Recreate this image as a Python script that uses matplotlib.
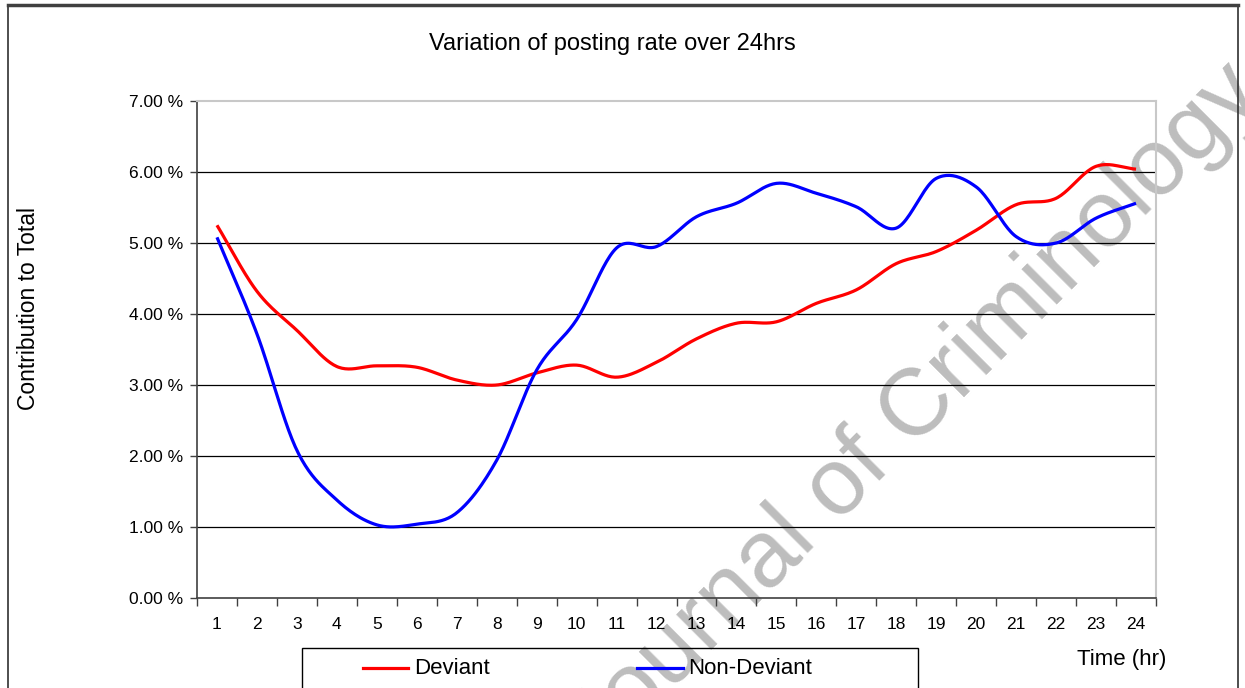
import numpy as np
import matplotlib
matplotlib.use('Agg')
import matplotlib.pyplot as plt
from matplotlib.patches import Rectangle
from matplotlib.lines import Line2D

hours = list(range(1, 25))
deviant = [5.25, 4.32, 3.77, 3.26, 3.27, 3.25, 3.07, 3.00, 3.17, 3.28, 3.11, 3.32,
           3.65, 3.87, 3.89, 4.15, 4.34, 4.71, 4.88, 5.18, 5.54, 5.63, 6.08, 6.04]
non_deviant = [5.08, 3.72, 2.08, 1.38, 1.03, 1.04, 1.20, 1.94, 3.21, 3.92, 4.93, 4.95,
               5.37, 5.56, 5.84, 5.70, 5.51, 5.21, 5.91, 5.79, 5.09, 5.00, 5.35, 5.56]
y_ticks = [0, 1, 2, 3, 4, 5, 6, 7]
y_labels = ["%.2f %%" % v for v in y_ticks]
title = "Variation of posting rate over 24hrs"
series_names = ["Deviant", "Non-Deviant"]
colors = ["#ff0000", "#0000ff"]

FONT = ['Liberation Sans', 'DejaVu Sans']
plt.rcParams['font.family'] = FONT


def smooth(x, y, n=24):
    x = np.asarray(x, float)
    y = np.asarray(y, float)
    P = np.column_stack([x, y])
    Pext = np.vstack([P[0] - (P[1] - P[0]), P, P[-1] + (P[-1] - P[-2])])
    out = []
    t = np.linspace(0, 1, n, endpoint=False)
    for i in range(1, len(Pext) - 2):
        p0, p1, p2, p3 = Pext[i - 1], Pext[i], Pext[i + 1], Pext[i + 2]
        c1 = p1 + (p2 - p0) / 6.0
        c2 = p2 - (p3 - p1) / 6.0
        tt = t[:, None]
        seg = ((1 - tt) ** 3) * p1 + 3 * ((1 - tt) ** 2) * tt * c1 + 3 * (1 - tt) * tt ** 2 * c2 + tt ** 3 * p2
        out.append(seg)
    out.append(P[-1][None, :])
    out = np.vstack(out)
    return out[:, 0], out[:, 1]


W, H = 1245, 688
fig = plt.figure(figsize=(W / 100, H / 100), dpi=100)
fig.patch.set_facecolor('white')

# outer frame
fig.patches.append(Rectangle((8 / W, -0.05), (1238 - 8) / W, 1.05 - 5 / H,
                             transform=fig.transFigure, fill=False,
                             edgecolor='#303030', linewidth=1.2))
fig.add_artist(Line2D([8 / W, 1238 / W], [1 - 5 / H, 1 - 5 / H], transform=fig.transFigure,
                      color='#404040', linewidth=2.5))

ax = fig.add_axes([197 / W, 90 / H, 959 / W, 497 / H])
ax.patch.set_visible(False)
ax.set_xlim(0.5, 24.5)
ax.set_ylim(0, 7)

for yv in y_ticks[1:-1]:
    ax.axhline(yv, color='#000000', linewidth=0.9, zorder=1)

for vals, col, name in zip([deviant, non_deviant], colors, series_names):
    sx, sy = smooth(hours, vals)
    ax.plot(sx, sy, color=col, linewidth=2.3, solid_capstyle='butt', label=name, zorder=3)

ax.spines['left'].set_color('#404040')
ax.spines['bottom'].set_color('#404040')
ax.spines['left'].set_linewidth(1.2)
ax.spines['bottom'].set_linewidth(1.2)
ax.spines['top'].set_color('#c8c8c8')
ax.spines['right'].set_color('#c8c8c8')
ax.spines['top'].set_linewidth(1.5)
ax.spines['right'].set_linewidth(1.5)

ax.set_yticks(y_ticks)
ax.set_yticklabels(y_labels, fontsize=12.5)
ax.tick_params(axis='y', direction='out', length=5, width=1, color='#404040', pad=5)

ax.set_xticks(hours)
ax.set_xticklabels([str(h) for h in hours], fontsize=12.5)
ax.set_xticks(np.arange(0.5, 25, 1), minor=True)
ax.tick_params(axis='x', which='major', length=0, pad=14)
ax.tick_params(axis='x', which='minor', direction='out', length=6, width=1, color='#404040')

fig.text(612 / W, 1 - 44 / H, title, ha='center', va='center', fontsize=17)
fig.text(29 / W, 1 - 309 / H, "Contribution to Total", rotation=90, ha='center', va='center', fontsize=16.5)
fig.text(1122 / W, 1 - 660 / H, "Time (hr)", ha='center', va='center', fontsize=16)

# legend (drawn by hand to match the clipped box of the reference)
fig.patches.append(Rectangle((302 / W, -0.05), (918 - 302) / W, 0.05 + 1 - 648 / H,
                             transform=fig.transFigure, fill=False,
                             edgecolor='#000000', linewidth=1.0))
leg_y = 1 - 668 / H
leg_pos = [(363, 408, 414), (637, 683, 688)]
for (x0, x1, xt), col, name in zip(leg_pos, colors, series_names):
    fig.add_artist(Line2D([x0 / W, x1 / W], [leg_y, leg_y], transform=fig.transFigure,
                          color=col, linewidth=2.3))
    fig.text(xt / W, leg_y, name, ha='left', va='center', fontsize=16)

# watermark (behind the plotted lines and gridlines)
fig.text(915 / W, 1 - 412 / H, "Journal of Criminology", rotation=45, rotation_mode='anchor',
         ha='center', va='center', fontsize=68, color='#bdbdbd', zorder=-1)

fig.savefig('out.png', dpi=100)
